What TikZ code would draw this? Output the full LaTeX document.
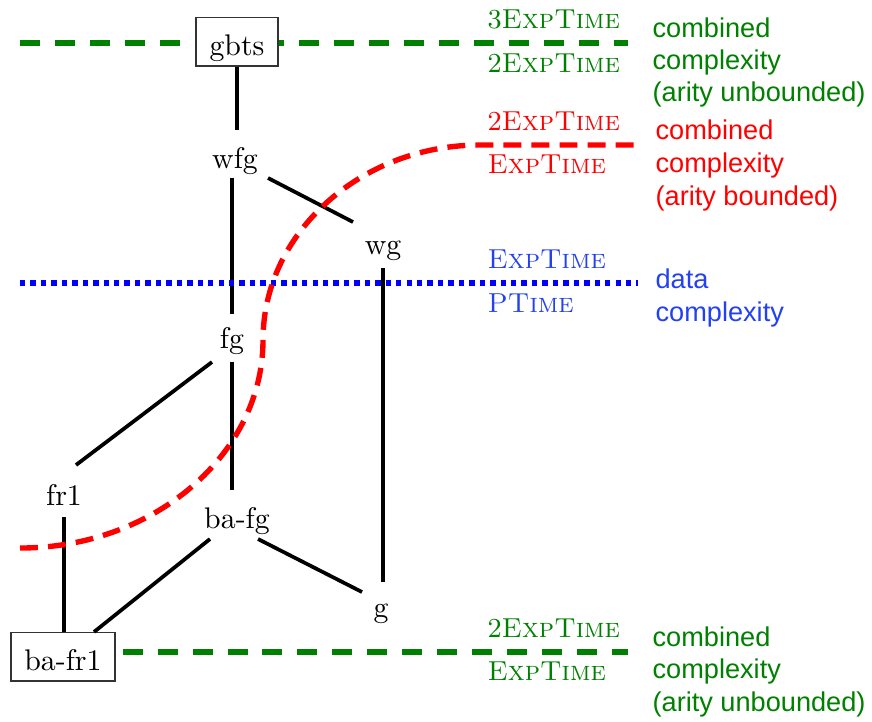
\documentclass[tikz,border=0pt]{standalone}
\usepackage{fontspec}
\newfontfamily\labfont{Liberation Sans}
\usetikzlibrary{calc,backgrounds}
\definecolor{dkgreen}{RGB}{0,128,0}
\definecolor{bluetext}{RGB}{35,65,240}
\tikzset{
  cls/.style={inner sep=0pt, anchor=base, font=\fontsize{10}{12}\selectfont},
  boxcls/.style={draw=black!80, line width=0.5pt, fill=white, inner xsep=4.5pt, inner ysep=0pt, text height=12.5pt, text depth=3.7pt, anchor=base, font=\fontsize{10}{12}\selectfont},
  edge/.style={line width=1.25pt, black},
  cx/.style={inner sep=0pt, anchor=base west, font=\fontsize{9.2}{11}\selectfont},
  sx/.style={inner sep=0pt, anchor=base west, font=\labfont\fontsize{9.1}{11}\selectfont},
  gline/.style={dkgreen, line width=1.9pt, dash pattern=on 6.7pt off 5pt},
  rline/.style={red, line width=1.8pt, dash pattern=on 6pt off 3.4pt},
  bline/.style={blue, line width=1.8pt, dash pattern=on 1.8pt off 1.7pt},
}
\begin{document}
\begin{tikzpicture}[x=0.335pt, y=-0.335pt]
\useasboundingbox (0,0) rectangle (872,721);
% class nodes
\node[boxcls] (gbts) at (237,55) {gbts};
\node[cls] (wfg) at (235,168) {wfg};
\node[cls] (wg) at (383,254) {wg};
\node[cls] (fg) at (232,348) {fg};
\node[cls] (fr1) at (64,505) {fr1};
\node[cls] (bafg) at (237,528) {ba-fg};
\node[cls] (g) at (381,617) {g};
\node[boxcls] (bafr1) at (63,670) {ba-fr1};
% boundary end points
\coordinate (gl1) at (20,43);
\coordinate (gr1) at (628,43);
\coordinate (rl) at (20,548);
\coordinate (rr) at (636,145);
\coordinate (bl) at (20,283);
\coordinate (br) at (638,283);
\coordinate (gr2) at (628,652);
\begin{scope}[on background layer]
\draw[gline] (gl1) -- (gr1);
\draw[gline] ($(bafr1.east |- gr2)+(7,0)$) -- (gr2);
\end{scope}
% edges
\draw[edge] (gbts.south) -- ($(wfg.base)+(2,-38)$);
\draw[edge] ($(wfg.base)+(-3,10)$) -- ($(fg.base)+(0,-34)$);
\draw[edge] ($(wfg.base)+(33,10)$) -- ($(wg.base)+(-30,-32)$);
\draw[edge] ($(wg.base)+(0,14)$) -- ($(g.base)+(2,-35)$);
\draw[edge] ($(fg.base)+(0,14)$) -- ($(bafg.base)+(-5,-38)$);
\draw[edge] ($(fg.base)+(-20,14)$) -- ($(fr1.base)+(12,-40)$);
\draw[edge] ($(fr1.base)+(0,12)$) -- (fr1.base |- bafr1.north);
\draw[edge] ($(bafg.base)+(-27,11)$) -- ($(bafr1.north)+(31,0)$);
\draw[edge] ($(bafg.base)+(21,11)$) -- ($(g.base)+(-19,-25)$);
% boundaries
\draw[bline] (bl) -- (br);
\draw[rline] (rl) .. controls (154,548) and (263,454) .. (263,340)
  .. controls (263,233) and (361,145) .. (480,145) -- (rr);
% complexity labels
\node[cx, dkgreen] (t1a) at (487,28) {3\textsc{ExpTime}};
\node[cx, dkgreen] (t1b) at (487,72) {2\textsc{ExpTime}};
\node[cx, red] (t2a) at (487,130) {2\textsc{ExpTime}};
\node[cx, red] (t2b) at (487,173) {\textsc{ExpTime}};
\node[cx, bluetext] (t3a) at (487,268) {\textsc{ExpTime}};
\node[cx, bluetext] (t3b) at (487,312) {\textsc{PTime}};
\node[cx, dkgreen] (t4a) at (487,637) {2\textsc{ExpTime}};
\node[cx, dkgreen] (t4b) at (487,680) {\textsc{ExpTime}};
% descriptions
\node[sx, dkgreen] (d1a) at (652,37) {combined};
\node[sx, dkgreen] (d1b) at (652,69) {complexity};
\node[sx, dkgreen] (d1c) at (652,101) {(arity unbounded)};
\node[sx, red] (d2a) at (655,139) {combined};
\node[sx, red] (d2b) at (655,172) {complexity};
\node[sx, red] (d2c) at (655,205) {(arity bounded)};
\node[sx, bluetext] (d3a) at (655,288) {data};
\node[sx, bluetext] (d3b) at (655,321) {complexity};
\node[sx, dkgreen] (d4a) at (652,646) {combined};
\node[sx, dkgreen] (d4b) at (652,678) {complexity};
\node[sx, dkgreen] (d4c) at (652,711) {(arity unbounded)};
\end{tikzpicture}
\end{document}
